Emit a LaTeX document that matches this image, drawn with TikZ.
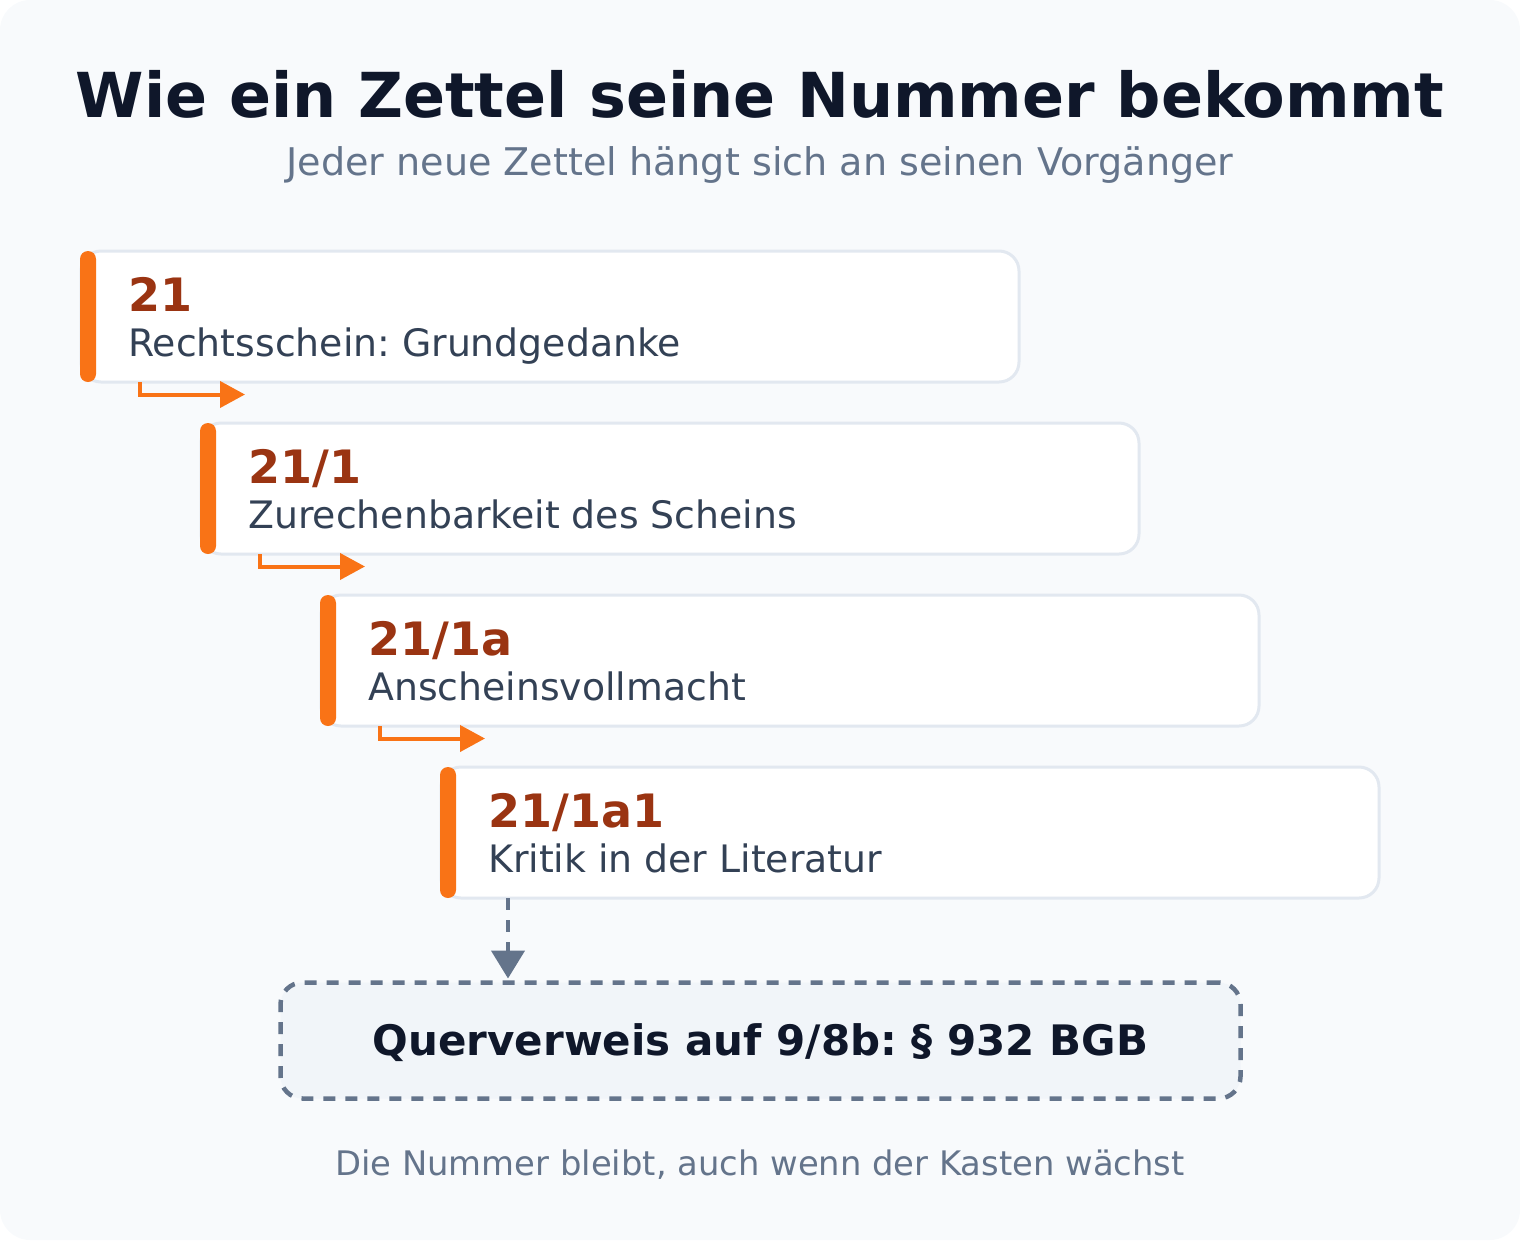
\documentclass[tikz,border=0pt]{standalone}
\usepackage{fontspec}
\setmainfont{DejaVu Sans}
\usetikzlibrary{arrows.meta,positioning}
\definecolor{seite}{HTML}{F8FAFC}
\definecolor{rand}{HTML}{E2E8F0}
\definecolor{akzent}{HTML}{F97316}
\definecolor{nummerrot}{HTML}{9A3412}
\definecolor{schrift}{HTML}{334155}
\definecolor{dunkel}{HTML}{0F172A}
\definecolor{grau}{HTML}{64748B}
\definecolor{hellgrau}{HTML}{F1F5F9}
\frenchspacing
\newcommand{\groesse}[1]{\fontsize{#1}{#1}\selectfont}
\newcommand{\zettel}[4]
{\node [zettelbox] (#1) at (#2) {};
\fill [akzent,rounded corners=8pt] ([xshift=-1pt]#1.north west) rectangle ([xshift=15pt]#1.south west);
\node [nummer] (#1n) at ([xshift=47pt,yshift=-60pt]#1.north west) {#3};
\node [titel] (#1t) at ([xshift=47pt,yshift=-105.5pt]#1.north west) {#4};
}
\tikzset{
  zettelbox/.style={draw=rand,line width=3pt,fill=white,rounded corners=20pt,
    minimum width=938pt,minimum height=131pt,inner sep=0pt,outer sep=0pt,anchor=north west},
  nummer/.style={anchor=base west,inner sep=0pt,text=nummerrot,font=\groesse{46}\bfseries},
  titel/.style={anchor=base west,inner sep=0pt,text=schrift,font=\groesse{37.8}},
  folgepfeil/.style={draw=akzent,line width=4pt,-{Triangle[length=25pt,width=26pt]}},
  verweispfeil/.style={draw=grau,line width=4.5pt,dash pattern=on 12pt off 10pt,
    -{Triangle[length=28pt,width=33pt]},shorten >=4pt},
  verweisbox/.style={draw=grau,line width=4.5pt,dash pattern=on 12pt off 10pt,fill=hellgrau,
    rounded corners=22pt,minimum width=960pt,minimum height=116pt,inner sep=0pt,outer sep=0pt,
    text=dunkel,font=\groesse{42}\bfseries,text height=29pt,text depth=0pt}
}
\begin{document}
\begin{tikzpicture}[x=1pt,y=-1pt]
	\useasboundingbox (0,0) rectangle (1520,1240);
	\fill [seite,rounded corners=30pt] (0,0) rectangle (1520,1240);
	\node [anchor=base,text=dunkel,font=\groesse{62}\bfseries] (kopf) at (760,117) {Wie ein Zettel seine Nummer bekommt};
	\node [anchor=base,text=grau,font=\groesse{38.1}] (unterzeile) at (760,175) {Jeder neue Zettel hängt sich an seinen Vorgänger};
	\foreach \i/\num/\txt in {1/21/Rechtsschein: Grundgedanke,2/21\slash1/Zurechenbarkeit des Scheins,
		3/21\slash1a/Anscheinsvollmacht,4/21\slash1a1/Kritik in der Literatur}
		{\zettel{z\i}{81+120*\i-120,251+172*\i-172}{\num}{\txt}};
	\foreach \i in {1,2,3}
		{\coordinate (a\i) at ([xshift=59pt]z\i.south west);
		\coordinate (b\i) at ([xshift=164pt,yshift=-12.5pt]z\i.south west);
		\draw [folgepfeil] (a\i) |- (b\i);
		};
	\node [verweisbox] (verweis) at (760.5,1040.5) {Querverweis auf 9/8b: § 932 BGB};
	\coordinate (v0) at ([xshift=67pt]z4.south west);
	\draw [verweispfeil] (v0) -- (v0 |- verweis.north);
	\node [anchor=base,text=grau,font=\groesse{33.8}] (fuss) at (760,1175) {Die Nummer bleibt, auch wenn der Kasten wächst};
\end{tikzpicture}
\end{document}
